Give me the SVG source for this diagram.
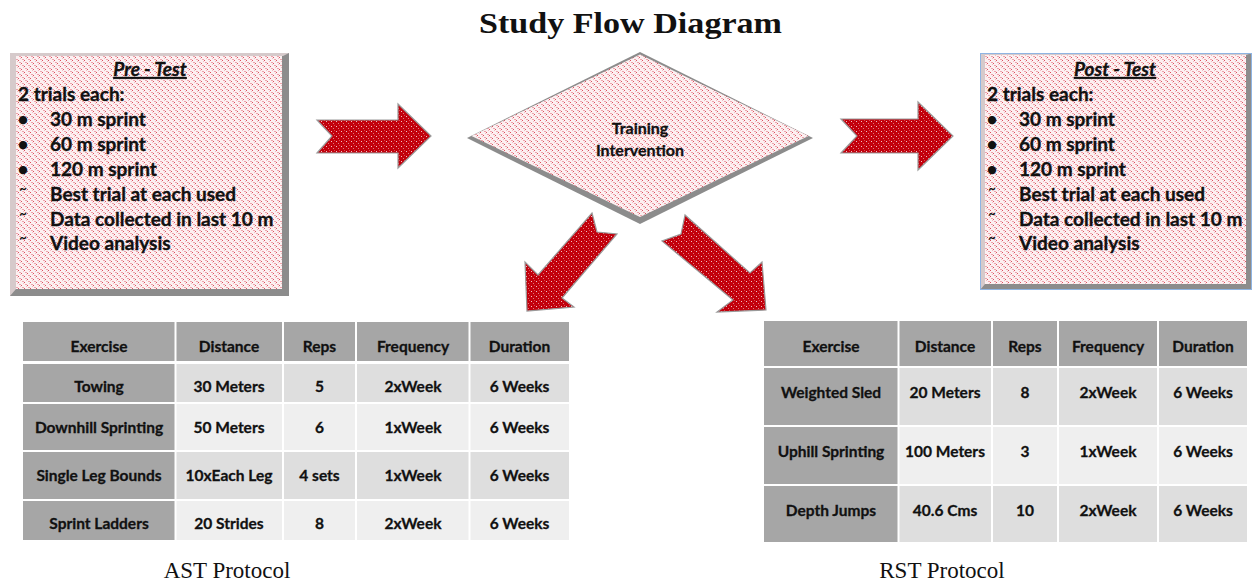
<svg xmlns="http://www.w3.org/2000/svg" width="1252" height="583" viewBox="0 0 1252 583">
  <style>
    .title { font-family: "Liberation Serif", serif; font-weight: bold; font-size: 30px; fill: #111; }
    .caption { font-family: "Liberation Serif", serif; font-size: 23px; fill: #111; }
    .box-text { font-family: Lato, "Liberation Sans", sans-serif; font-weight: bold; font-size: 19px; fill: #111; stroke: #111; stroke-width: 0.35; }
    .box-head { font-family: Lato, "Liberation Sans", sans-serif; font-weight: bold; font-style: italic; font-size: 19px; fill: #111; stroke: #111; stroke-width: 0.35; text-decoration: underline; }
    .mark { font-family: Lato, "Liberation Sans", sans-serif; font-weight: bold; font-size: 19px; fill: #111; text-anchor: middle; }
    .tilde { font-family: Lato, "Liberation Sans", sans-serif; font-weight: bold; font-size: 13px; fill: #111; text-anchor: middle; }
    .diamond-text { font-family: Lato, "Liberation Sans", sans-serif; font-weight: bold; font-size: 16px; fill: #111; stroke: #111; stroke-width: 0.3; text-anchor: middle; }
    .cell { font-family: Lato, "Liberation Sans", sans-serif; font-weight: bold; font-size: 15.5px; fill: #111; stroke: #111; stroke-width: 0.3; text-anchor: middle; }
    .hdr { fill: #a6a6a6; }
    .key { fill: #a6a6a6; }
    .odd { fill: #dedede; }
    .even { fill: #efefef; }
    .arrow { fill: url(#redspeck); stroke: #9a9a9a; stroke-width: 1.2; stroke-linejoin: miter; }
    .bevel-dark { fill: #8c8c8c; }
    .bevel-light { fill: #d6cacb; }
  </style>
  <defs>
    <!-- light pink dotted texture for the boxes and the diamond -->
    <pattern id="pink" width="6" height="6" patternUnits="userSpaceOnUse">
      <rect width="6" height="6" fill="#fcf0f1"/>
      <rect x="0" y="0" width="1" height="1" fill="#dc5060"/>
      <rect x="3" y="3" width="1" height="1" fill="#dc5060"/>
      <rect x="1" y="2" width="2" height="1" fill="#eea3ab"/>
      <rect x="4" y="5" width="2" height="1" fill="#eea3ab"/>
      <rect x="5" y="1" width="1" height="1" fill="#f3bcc2"/>
      <rect x="2" y="4" width="1" height="1" fill="#f3bcc2"/>
    </pattern>
    <!-- dark red speckled texture for the arrows -->
    <pattern id="redspeck" width="5" height="5" patternUnits="userSpaceOnUse">
      <rect width="5" height="5" fill="#c2000c"/>
      <rect x="1" y="1" width="1" height="1" fill="#f3c0c3"/>
      <rect x="3" y="3" width="1" height="1" fill="#e27a80"/>
      <rect x="4" y="0" width="1" height="1" fill="#d84850"/>
    </pattern>
  </defs>

  <rect width="1252" height="583" fill="#ffffff"/>

  <text class="title" x="630.5" y="33" text-anchor="middle" textLength="303" lengthAdjust="spacingAndGlyphs">Study Flow Diagram</text>

  <!-- Pre-test box -->
  <g id="pre-test">
    <rect class="bevel-dark" x="10" y="53" width="279" height="243"/>
    <polygon class="bevel-light" points="10,53 289,53 283,56 16,56 16,289 10,296"/>
    <rect x="16" y="56" width="266" height="233" fill="url(#pink)"/>
    <text class="box-head" x="150" y="76" text-anchor="middle">Pre - Test</text>
    <text class="box-text" x="18" y="101">2 trials each:</text>
    <text class="mark" x="23" y="126">•</text>
    <text class="box-text" x="50" y="126">30 m sprint</text>
    <text class="mark" x="23" y="151">•</text>
    <text class="box-text" x="50" y="151">60 m sprint</text>
    <text class="mark" x="23" y="176">•</text>
    <text class="box-text" x="50" y="176">120 m sprint</text>
    <text class="tilde" x="23" y="193">~</text>
    <text class="box-text" x="50" y="201">Best trial at each used</text>
    <text class="tilde" x="23" y="218">~</text>
    <text class="box-text" x="50" y="226">Data collected in last 10 m</text>
    <text class="tilde" x="23" y="242">~</text>
    <text class="box-text" x="50" y="250">Video analysis</text>
  </g>

  <!-- Training intervention decision -->
  <g id="training">
    <polygon fill="#8c8c8c" points="640,52 813,138 640,224 467,138"/>
    <polygon fill="url(#pink)" points="640,54.5 808.5,136 640,217 471.5,136"/>
    <text class="diamond-text" x="640" y="134">Training</text>
    <text class="diamond-text" x="640" y="156">Intervention</text>
  </g>

  <!-- Post-test box -->
  <g id="post-test">
    <rect class="bevel-dark" x="980" y="53" width="272" height="237"/>
    <polygon class="bevel-light" points="980,53 1252,53 1246,55 985,55 985,284 980,290"/>
    <rect x="985" y="55" width="261" height="229" fill="url(#pink)"/>
    <rect x="980.5" y="53.5" width="271" height="236" fill="none" stroke="#8eb4e3" stroke-width="1"/>
    <text class="box-head" x="1115" y="76" text-anchor="middle">Post - Test</text>
    <text class="box-text" x="987" y="101">2 trials each:</text>
    <text class="mark" x="992" y="126">•</text>
    <text class="box-text" x="1019" y="126">30 m sprint</text>
    <text class="mark" x="992" y="151">•</text>
    <text class="box-text" x="1019" y="151">60 m sprint</text>
    <text class="mark" x="992" y="176">•</text>
    <text class="box-text" x="1019" y="176">120 m sprint</text>
    <text class="tilde" x="992" y="193">~</text>
    <text class="box-text" x="1019" y="201">Best trial at each used</text>
    <text class="tilde" x="992" y="218">~</text>
    <text class="box-text" x="1019" y="226">Data collected in last 10 m</text>
    <text class="tilde" x="992" y="242">~</text>
    <text class="box-text" x="1019" y="250">Video analysis</text>
  </g>

  <!-- Block arrows between stages -->
  <g id="connectors">
    <polygon class="arrow" points="317,120 398,120 398,104 431,136 398,168 398,153 317,153 332,136"/>
    <polygon class="arrow" points="841,119 918,119 918,102 953,136 918,170 918,153 841,153 857,136"/>
    <polygon class="arrow" points="592,213 597,232 617,234 562,298 574,307 527,311 525,262 538,275"/>
    <polygon class="arrow" points="685,215 681,234 662,241 733,300 717,312 766,310 762,262 750,273"/>
  </g>

  <!-- AST protocol table -->
  <g id="ast-table">
    <rect x="23" y="322" width="546" height="218" fill="#ffffff"/>
    <rect class="hdr" x="23" y="322" width="151.5" height="39"/>
    <rect class="hdr" x="176.5" y="322" width="105.5" height="39"/>
    <rect class="hdr" x="284" y="322" width="71" height="39"/>
    <rect class="hdr" x="357" y="322" width="111.5" height="39"/>
    <rect class="hdr" x="470.5" y="322" width="98.5" height="39"/>

    <rect class="key" x="23" y="364" width="151.5" height="38"/>
    <rect class="odd" x="176.5" y="364" width="105.5" height="38"/>
    <rect class="odd" x="284" y="364" width="71" height="38"/>
    <rect class="odd" x="357" y="364" width="111.5" height="38"/>
    <rect class="odd" x="470.5" y="364" width="98.5" height="38"/>

    <rect class="key" x="23" y="404" width="151.5" height="46"/>
    <rect class="even" x="176.5" y="404" width="105.5" height="46"/>
    <rect class="even" x="284" y="404" width="71" height="46"/>
    <rect class="even" x="357" y="404" width="111.5" height="46"/>
    <rect class="even" x="470.5" y="404" width="98.5" height="46"/>

    <rect class="key" x="23" y="452" width="151.5" height="47"/>
    <rect class="odd" x="176.5" y="452" width="105.5" height="47"/>
    <rect class="odd" x="284" y="452" width="71" height="47"/>
    <rect class="odd" x="357" y="452" width="111.5" height="47"/>
    <rect class="odd" x="470.5" y="452" width="98.5" height="47"/>

    <rect class="key" x="23" y="501" width="151.5" height="39"/>
    <rect class="even" x="176.5" y="501" width="105.5" height="39"/>
    <rect class="even" x="284" y="501" width="71" height="39"/>
    <rect class="even" x="357" y="501" width="111.5" height="39"/>
    <rect class="even" x="470.5" y="501" width="98.5" height="39"/>

    <text class="cell" x="99" y="352">Exercise</text>
    <text class="cell" x="229" y="352">Distance</text>
    <text class="cell" x="319.5" y="352">Reps</text>
    <text class="cell" x="413" y="352">Frequency</text>
    <text class="cell" x="519.5" y="352">Duration</text>

    <text class="cell" x="99" y="392">Towing</text>
    <text class="cell" x="229" y="392">30 Meters</text>
    <text class="cell" x="319.5" y="392">5</text>
    <text class="cell" x="413" y="392">2xWeek</text>
    <text class="cell" x="519.5" y="392">6 Weeks</text>

    <text class="cell" x="99" y="433">Downhill Sprinting</text>
    <text class="cell" x="229" y="433">50 Meters</text>
    <text class="cell" x="319.5" y="433">6</text>
    <text class="cell" x="413" y="433">1xWeek</text>
    <text class="cell" x="519.5" y="433">6 Weeks</text>

    <text class="cell" x="99" y="481">Single Leg Bounds</text>
    <text class="cell" x="229" y="481">10xEach Leg</text>
    <text class="cell" x="319.5" y="481">4 sets</text>
    <text class="cell" x="413" y="481">1xWeek</text>
    <text class="cell" x="519.5" y="481">6 Weeks</text>

    <text class="cell" x="99" y="529">Sprint Ladders</text>
    <text class="cell" x="229" y="529">20 Strides</text>
    <text class="cell" x="319.5" y="529">8</text>
    <text class="cell" x="413" y="529">2xWeek</text>
    <text class="cell" x="519.5" y="529">6 Weeks</text>

    <text class="caption" x="227" y="578" text-anchor="middle">AST Protocol</text>
  </g>

  <!-- RST protocol table -->
  <g id="rst-table">
    <rect x="764" y="321" width="483" height="221" fill="#ffffff"/>
    <rect class="hdr" x="764" y="321" width="133.5" height="45"/>
    <rect class="hdr" x="899.5" y="321" width="91.5" height="45"/>
    <rect class="hdr" x="993" y="321" width="64" height="45"/>
    <rect class="hdr" x="1059" y="321" width="98" height="45"/>
    <rect class="hdr" x="1159" y="321" width="88" height="45"/>

    <rect class="key" x="764" y="368" width="133.5" height="57"/>
    <rect class="odd" x="899.5" y="368" width="91.5" height="57"/>
    <rect class="odd" x="993" y="368" width="64" height="57"/>
    <rect class="odd" x="1059" y="368" width="98" height="57"/>
    <rect class="odd" x="1159" y="368" width="88" height="57"/>

    <rect class="key" x="764" y="427" width="133.5" height="57"/>
    <rect class="even" x="899.5" y="427" width="91.5" height="57"/>
    <rect class="even" x="993" y="427" width="64" height="57"/>
    <rect class="even" x="1059" y="427" width="98" height="57"/>
    <rect class="even" x="1159" y="427" width="88" height="57"/>

    <rect class="key" x="764" y="486" width="133.5" height="56"/>
    <rect class="odd" x="899.5" y="486" width="91.5" height="56"/>
    <rect class="odd" x="993" y="486" width="64" height="56"/>
    <rect class="odd" x="1059" y="486" width="98" height="56"/>
    <rect class="odd" x="1159" y="486" width="88" height="56"/>

    <text class="cell" x="831" y="352">Exercise</text>
    <text class="cell" x="945" y="352">Distance</text>
    <text class="cell" x="1025" y="352">Reps</text>
    <text class="cell" x="1108" y="352">Frequency</text>
    <text class="cell" x="1203" y="352">Duration</text>

    <text class="cell" x="831" y="398">Weighted Sled</text>
    <text class="cell" x="945" y="398">20 Meters</text>
    <text class="cell" x="1025" y="398">8</text>
    <text class="cell" x="1108" y="398">2xWeek</text>
    <text class="cell" x="1203" y="398">6 Weeks</text>

    <text class="cell" x="831" y="457">Uphill Sprinting</text>
    <text class="cell" x="945" y="457">100 Meters</text>
    <text class="cell" x="1025" y="457">3</text>
    <text class="cell" x="1108" y="457">1xWeek</text>
    <text class="cell" x="1203" y="457">6 Weeks</text>

    <text class="cell" x="831" y="516">Depth Jumps</text>
    <text class="cell" x="945" y="516">40.6 Cms</text>
    <text class="cell" x="1025" y="516">10</text>
    <text class="cell" x="1108" y="516">2xWeek</text>
    <text class="cell" x="1203" y="516">6 Weeks</text>

    <text class="caption" x="942" y="578" text-anchor="middle">RST Protocol</text>
  </g>
</svg>
